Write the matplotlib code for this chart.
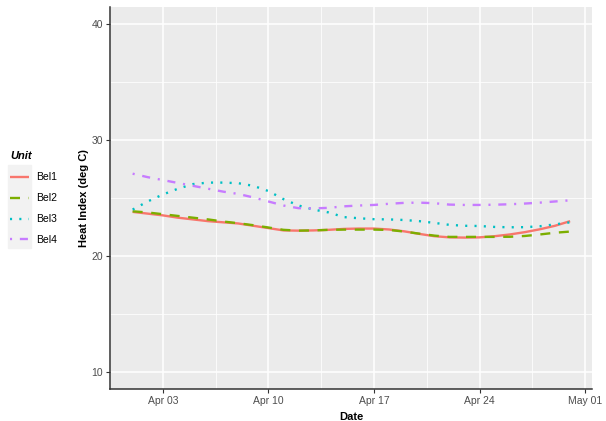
import matplotlib
matplotlib.use("Agg")
import matplotlib.pyplot as plt
import matplotlib.dates as mdates
from matplotlib.patches import Rectangle
import numpy as np
import pandas as pd

plt.rcParams['font.family'] = ['Liberation Sans', 'DejaVu Sans']
plt.rcParams['lines.scale_dashes'] = False

# smoothed daily heat index per unit, Apr 1 - Apr 30
dates = pd.date_range('2023-04-01', periods=30, freq='D')
units = ['Bel1', 'Bel2', 'Bel3', 'Bel4']
bel1 = [23.8, 23.65, 23.5, 23.3, 23.15, 23.0, 22.9, 22.8, 22.6, 22.4,
        22.2, 22.18, 22.2, 22.25, 22.33, 22.36, 22.36, 22.28, 22.12, 21.9,
        21.7, 21.6, 21.58, 21.6, 21.7, 21.85, 22.05, 22.3, 22.6, 23.0]
bel2 = [23.85, 23.75, 23.6, 23.45, 23.3, 23.15, 22.97, 22.82, 22.65, 22.45,
        22.25, 22.18, 22.2, 22.25, 22.27, 22.27, 22.27, 22.24, 22.1, 21.92,
        21.75, 21.64, 21.64, 21.64, 21.64, 21.65, 21.72, 21.85, 22.0, 22.1]
bel3 = [24.0, 24.7, 25.3, 25.8, 26.2, 26.33, 26.33, 26.28, 26.05, 25.6,
        24.9, 24.35, 24.0, 23.75, 23.35, 23.25, 23.17, 23.15, 23.1, 23.0,
        22.85, 22.68, 22.6, 22.58, 22.5, 22.47, 22.48, 22.56, 22.72, 22.9]
bel4 = [27.1, 26.8, 26.55, 26.3, 26.05, 25.8, 25.55, 25.35, 25.05, 24.7,
        24.35, 24.12, 24.1, 24.15, 24.28, 24.35, 24.4, 24.5, 24.58, 24.6,
        24.55, 24.43, 24.4, 24.4, 24.42, 24.46, 24.52, 24.6, 24.7, 24.8]
tick_dates = pd.to_datetime(['2023-04-03', '2023-04-10', '2023-04-17', '2023-04-24', '2023-05-01'])

colors = ['#F8766D', '#7CAE00', '#00BFC4', '#C77CFF']
dash_styles = [None, (0, (7.2, 6.2)), (0, (1.5, 5.2)), (0, (1.5, 5.6, 5.8, 5.6))]

fig = plt.figure(figsize=(6.06, 4.21), dpi=100)
ax = fig.add_axes([110/606, 1 - 389/421, 482/606, 382/421])
ax.set_facecolor('#EBEBEB')

handles = []
for name, vals, c, ls in zip(units, [bel1, bel2, bel3, bel4], colors, dash_styles):
    line, = ax.plot(dates, vals, color=c, lw=1.7, label=name,
                    linestyle='-' if ls is None else ls, solid_capstyle='butt',
                    dash_capstyle='butt')
    handles.append(line)

span = dates[-1] - dates[0]
ax.set_xlim(dates[0] - span * 0.05, dates[-1] + span * 0.05)
ax.set_ylim(8.5, 41.5)

ax.set_xticks(tick_dates)
ax.xaxis.set_major_formatter(mdates.DateFormatter('%b %d'))
mids = tick_dates[:-1] + (tick_dates[1:] - tick_dates[:-1]) / 2
ax.set_xticks(list(mids) + [tick_dates[0] - pd.Timedelta(days=3.5)], minor=True)
ax.set_yticks([10, 20, 30, 40])
ax.set_yticks([15, 25, 35], minor=True)

ax.grid(which='major', color='white', lw=1.1)
ax.grid(which='minor', color='white', lw=0.55)
ax.set_axisbelow(True)
ax.tick_params(which='major', length=3, width=0.8, color='#333333',
               labelsize=7.5, labelcolor='#4D4D4D', pad=2)
ax.tick_params(which='minor', length=0)
for s in ['top', 'right']:
    ax.spines[s].set_visible(False)
for s in ['left', 'bottom']:
    ax.spines[s].set_color('#333333')
    ax.spines[s].set_linewidth(1.1)

ax.set_xlabel('Date', fontsize=8, fontweight='bold', labelpad=4)
ax.set_ylabel('Heat Index (deg C)', fontsize=8, fontweight='bold', labelpad=2)

# gray key column behind legend keys
fig.patches.append(Rectangle((8/606, 1 - 248/421), 23/606, 83/421,
                             transform=fig.transFigure, color='#F2F2F2', zorder=0))
leg = fig.legend(handles=handles, loc='upper left', bbox_to_anchor=(1/606, 1 - 142/421),
                 frameon=False, fontsize=7.5, handlelength=1.75, handletextpad=0.75,
                 labelspacing=1.05, title='Unit', alignment='left')
leg.get_title().set_fontweight('bold')
leg.get_title().set_fontstyle('italic')
leg.get_title().set_fontsize(8)

fig.savefig('out.png', dpi=100)
